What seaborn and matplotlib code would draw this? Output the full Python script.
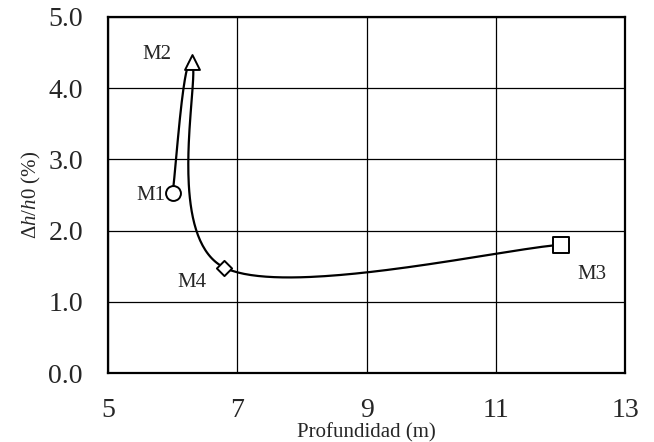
import numpy as np
import pandas as pd
import matplotlib
matplotlib.use('Agg')
import matplotlib.pyplot as plt
import seaborn as sns

# ── data ────────────────────────────────────────────────
samples = ['M1', 'M2', 'M3', 'M4']
depth = [6.0, 6.3, 12.0, 6.8]          # Profundidad (m)
strain = [2.52, 4.36, 1.80, 1.48]      # Δh/h0 (%)
path_order = ['M1', 'M2', 'M4', 'M3']  # order of the smoothed line

x_ticks = [5, 7, 9, 11, 13]
y_ticks = [0.0, 1.0, 2.0, 3.0, 4.0, 5.0]

df = pd.DataFrame({'sample': samples, 'depth': depth, 'strain': strain})

# ── style ───────────────────────────────────────────────
sns.set_style('white')
plt.rcParams['font.family'] = ['Liberation Serif', 'DejaVu Serif']
plt.rcParams['mathtext.fontset'] = 'custom'
plt.rcParams['mathtext.rm'] = 'Liberation Serif'
plt.rcParams['mathtext.it'] = 'Liberation Serif:italic'

fig = plt.figure(figsize=(6.54, 4.42), dpi=100)
ax = fig.add_axes([0.165, 0.156, 0.791, 0.806])
ax.set_xlim(5, 13)
ax.set_ylim(0, 5)

# ── Excel-like smoothed line (Catmull-Rom Bezier in screen space) ──
pts = df.set_index('sample').loc[path_order, ['depth', 'strain']].to_numpy()
pix = ax.transData.transform(pts)
ext = np.vstack([pix[0], pix, pix[-1]])
curve = []
for i in range(len(pix) - 1):
    p0, p3 = ext[i + 1], ext[i + 2]
    c1 = p0 + (ext[i + 2] - ext[i]) / 6
    c2 = p3 - (ext[i + 3] - ext[i + 1]) / 6
    t = np.linspace(0, 1, 80)[:, None]
    seg = ((1 - t) ** 3) * p0 + 3 * ((1 - t) ** 2) * t * c1 \
        + 3 * (1 - t) * t ** 2 * c2 + t ** 3 * p3
    curve.append(seg)
curve = ax.transData.inverted().transform(np.vstack(curve))
cdf = pd.DataFrame({'x': curve[:, 0], 'y': curve[:, 1]})
sns.lineplot(data=cdf, x='x', y='y', sort=False, color='black',
             linewidth=1.6, ax=ax, zorder=3)

# ── markers ─────────────────────────────────────────────
marker_map = {'M1': ('o', 115), 'M2': ('^', 115), 'M3': ('s', 120), 'M4': ('D', 60)}
for name, (mk, sz) in marker_map.items():
    sub = df[df['sample'] == name]
    sns.scatterplot(data=sub, x='depth', y='strain', marker=mk, s=sz,
                    facecolor='white', edgecolor='black', linewidth=1.4,
                    ax=ax, zorder=4, legend=False)

# labels next to each sample (offsets in pixels)
label_pos = {'M1': (-7, 0, 'right'), 'M2': (-35, 10, 'center'),
             'M3': (31, -27, 'center'), 'M4': (-32, -12, 'center')}
for name, x, y in zip(samples, depth, strain):
    dx, dy, ha = label_pos[name]
    ax.annotate(name, (x, y), xytext=(dx, dy), textcoords='offset pixels',
                ha=ha, va='center_baseline', fontsize=15)

# ── axes ────────────────────────────────────────────────
ax.set_xticks(x_ticks)
ax.set_yticks(y_ticks)
ax.set_xticklabels([str(v) for v in x_ticks])
ax.set_yticklabels([f'{v:.1f}' for v in y_ticks])
ax.grid(True, color='black', linewidth=0.9)
ax.tick_params(direction='in', length=5, width=1.5, labelsize=20)
ax.tick_params(axis='x', pad=18)
ax.tick_params(axis='y', pad=18)
for sp in ax.spines.values():
    sp.set_visible(True)
    sp.set_linewidth(1.6)
    sp.set_color('black')

ax.set_xlabel('Profundidad (m)', fontsize=15, labelpad=0)
ax.set_ylabel(r'$\mathit{\Delta h/h0}$ (%)', fontsize=15, labelpad=4)

fig.savefig('out.png', dpi=100)
